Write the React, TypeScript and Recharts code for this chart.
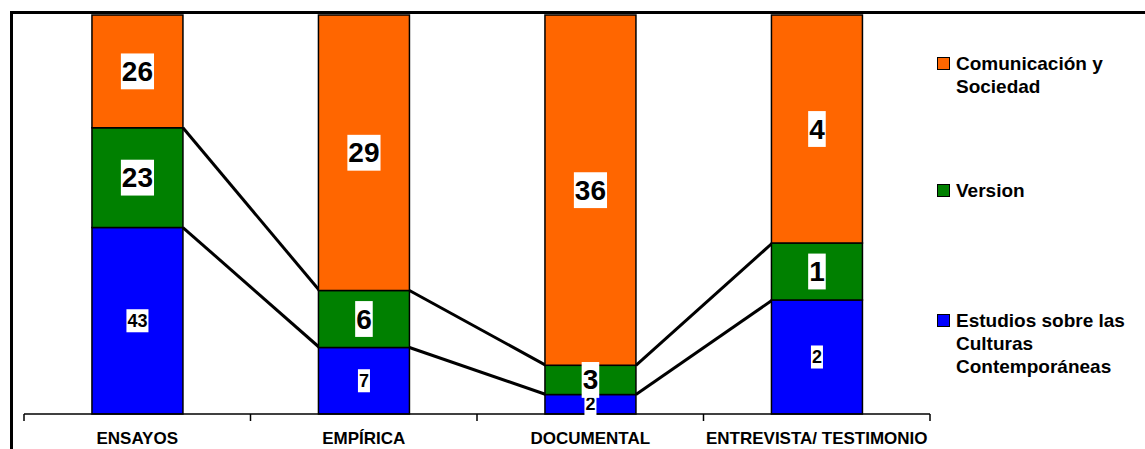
import React from 'react';
import { BarChart, Bar, XAxis, YAxis, LabelList, Legend } from 'recharts';

// Research type by journal section (counts per category)
const categories = ['ENSAYOS', 'EMPÍRICA', 'DOCUMENTAL', 'ENTREVISTA/ TESTIMONIO'];
const estudios = [43, 7, 2, 2];
const version = [23, 6, 3, 1];
const comunicacion = [26, 29, 36, 4];

const seriesNames = {
  estudios: 'Estudios sobre las Culturas Contemporáneas',
  version: 'Version',
  comunicacion: 'Comunicación y Sociedad',
};
const seriesColors = {
  estudios: '#0000FF',
  version: '#008000',
  comunicacion: '#FF6600',
};

const data = categories.map((name, i) => ({
  name,
  estudios: estudios[i],
  version: version[i],
  comunicacion: comunicacion[i],
}));

const totals = categories.map((_, i) => estudios[i] + version[i] + comunicacion[i]);

const W = 1145;
const H = 449;
const MARGIN = { top: 15, right: 215, bottom: 0, left: 24 };
const X_AXIS_H = 35;
const GAP = 0.3; // barCategoryGap as a fraction of the band
const FONT = '"Liberation Sans", Arial, sans-serif';

// Segment shape that also draws the series line joining this segment's top
// to the same segment's top in the next category.
const makeShape = (lower: number[][], own: number[]) => (props: any) => {
  const { x, y, width, height, index, fill } = props;
  const share = (i: number) => {
    const below = lower.reduce((s, arr) => s + arr[i], 0);
    return { top: (below + own[i]) / totals[i], own: own[i] / totals[i] };
  };
  const cur = share(index);
  const fullH = height / cur.own;
  const base = y + cur.top * fullH;
  const band = width / (1 - 2 * GAP);
  const hasNext = index < categories.length - 1;
  return (
    <g>
      <rect x={x} y={y} width={width} height={height} fill={fill} stroke="#000" strokeWidth={1.5} />
      {hasNext && (
        <line
          x1={x + width}
          y1={y}
          x2={x + band}
          y2={base - share(index + 1).top * fullH}
          stroke="#000"
          strokeWidth={3}
        />
      )}
    </g>
  );
};

// Value label in a white box, centred in its segment
const makeLabel = (values: number[], fontSize: number) => (props: any) => {
  const { x, y, width, height, index } = props;
  const text = String(values[index]);
  const cx = x + width / 2;
  const cy = y + height / 2;
  const bw = text.length * 0.556 * fontSize + 2;
  const bh = fontSize * 1.28;
  return (
    <g>
      <rect x={cx - bw / 2} y={cy - bh / 2} width={bw} height={bh} fill="#fff" />
      <text
        x={cx}
        y={cy}
        textAnchor="middle"
        dominantBaseline="central"
        fontFamily={FONT}
        fontWeight="bold"
        fontSize={fontSize}
        fill="#000"
      >
        {text}
      </text>
    </g>
  );
};

const plotW = W - MARGIN.left - MARGIN.right;
const bandW = plotW / categories.length;

// Category label with tick marks on the category boundaries
const CategoryTick = (props: any) => {
  const { x, y, payload, index } = props;
  const axisY = y;
  return (
    <g>
      <line x1={x - bandW / 2} y1={axisY} x2={x - bandW / 2} y2={axisY + 7} stroke="#000" strokeWidth={1.5} />
      {index === categories.length - 1 && (
        <line x1={x + bandW / 2} y1={axisY} x2={x + bandW / 2} y2={axisY + 7} stroke="#000" strokeWidth={1.5} />
      )}
      <text
        x={x}
        y={axisY + 30}
        textAnchor="middle"
        fontFamily={FONT}
        fontWeight="bold"
        fontSize={17}
        fill="#000"
      >
        {payload.value}
      </text>
    </g>
  );
};

const legendItems = [
  { key: 'comunicacion', lines: ['Comunicación y', 'Sociedad'], cy: 63 },
  { key: 'version', lines: ['Version'], cy: 190 },
  { key: 'estudios', lines: ['Estudios sobre las', 'Culturas', 'Contemporáneas'], cy: 320 },
] as const;

const LegendContent = () => (
  <div style={{ position: 'relative', width: 208, height: H }}>
    {legendItems.map((item) => (
      <div key={item.key} style={{ position: 'absolute', left: 0, top: item.cy - 11.5 }}>
        <div
          style={{
            position: 'absolute',
            left: 0,
            top: 5,
            width: 11,
            height: 11,
            background: (seriesColors as any)[item.key],
            border: '1px solid #000',
          }}
        />
        <div
          style={{
            position: 'absolute',
            left: 19,
            top: 0,
            whiteSpace: 'nowrap',
            fontFamily: FONT,
            fontWeight: 'bold',
            fontSize: 19,
            lineHeight: '23px',
            color: '#000',
          }}
        >
          {item.lines.map((l) => (
            <div key={l}>{l}</div>
          ))}
        </div>
      </div>
    ))}
  </div>
);

export default function App() {
  return (
    <div style={{ position: 'fixed', left: 0, top: 0, width: W, height: H, overflow: 'hidden', background: '#fff' }}>
      <BarChart
        width={W}
        height={H}
        data={data}
        margin={MARGIN}
        stackOffset="expand"
        barCategoryGap={`${GAP * 100}%`}
      >
        <XAxis
          dataKey="name"
          height={X_AXIS_H}
          axisLine={{ stroke: '#000', strokeWidth: 1.5 }}
          tickLine={false}
          tickSize={0}
          tickMargin={0}
          tick={<CategoryTick />}
          interval={0}
        />
        <YAxis hide domain={[0, 1]} />
        <Legend
          layout="horizontal"
          verticalAlign="middle"
          align="center"
          content={<LegendContent />}
          wrapperStyle={{ left: 937, top: 0, width: 208, height: H }}
        />
        <Bar
          dataKey="estudios"
          name={seriesNames.estudios}
          stackId="a"
          fill={seriesColors.estudios}
          isAnimationActive={false}
          shape={makeShape([], estudios)}
        >
          <LabelList dataKey="estudios" content={makeLabel(estudios, 18)} />
        </Bar>
        <Bar
          dataKey="version"
          name={seriesNames.version}
          stackId="a"
          fill={seriesColors.version}
          isAnimationActive={false}
          shape={makeShape([estudios], version)}
        >
          <LabelList dataKey="version" content={makeLabel(version, 28)} />
        </Bar>
        <Bar
          dataKey="comunicacion"
          name={seriesNames.comunicacion}
          stackId="a"
          fill={seriesColors.comunicacion}
          stroke="#000"
          strokeWidth={1.5}
          isAnimationActive={false}
        >
          <LabelList dataKey="comunicacion" content={makeLabel(comunicacion, 28)} />
        </Bar>
      </BarChart>
      <div
        style={{
          position: 'absolute',
          left: 10,
          top: 11,
          width: W,
          height: H,
          borderLeft: '3px solid #000',
          borderTop: '3px solid #000',
          pointerEvents: 'none',
        }}
      />
    </div>
  );
}
